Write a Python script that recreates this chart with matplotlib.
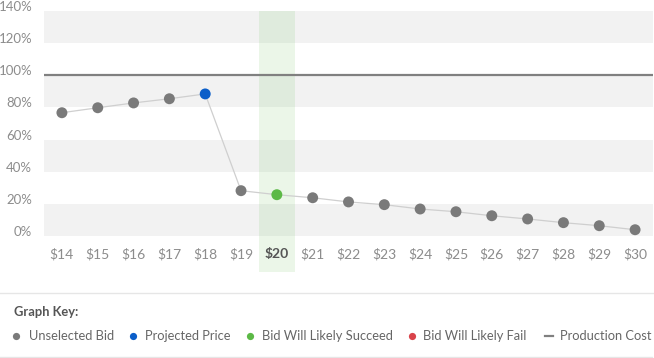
import matplotlib
matplotlib.use("Agg")
import matplotlib.pyplot as plt
from matplotlib.lines import Line2D
from matplotlib.transforms import ScaledTranslation
import numpy as np

# ---- data ----
bids = [14, 15, 16, 17, 18, 19, 20, 21, 22, 23, 24, 25, 26, 27, 28, 29, 30]
bid_labels = [f"${b}" for b in bids]
values = [76.7, 79.8, 82.8, 85.4, 88.4, 28.2, 25.7, 23.8, 21.2, 19.5, 16.8,
          15.1, 12.6, 10.6, 8.3, 6.4, 3.9]
projected_bid = 18
selected_bid = 20
production_cost = 100
y_ticks = [0, 20, 40, 60, 80, 100, 120, 140]
y_tick_labels = [f"{v}%" for v in y_ticks]
legend_labels = ["Unselected Bid", "Projected Price", "Bid Will Likely Succeed",
                 "Bid Will Likely Fail", "Production Cost"]

# ---- style ----
C_GRAY = "#7a7a7a"
C_BLUE = "#0b5ec9"
C_GREEN = "#5cb946"
C_RED = "#d9434a"
C_LINE = "#cfcfcf"
C_BAND = "#f2f2f2"
FONT = "Lato"

plt.rcParams["font.family"] = [FONT, "DejaVu Sans"]

W, H = 654, 358
fig = plt.figure(figsize=(W / 100, H / 100), dpi=100)
ax = fig.add_axes([44 / W, 1 - 272 / H, (653 - 44) / W, (272 - 11) / H])

x = np.arange(len(bids))
ax.set_xlim(-0.5, len(bids) - 0.5)
ax.set_ylim(-22.4, 140)

# alternating bands
for lo in range(0, 140, 40):
    ax.axhspan(lo, lo + 20, color=C_BAND, lw=0, zorder=0)

sel_idx = bids.index(selected_bid)
ax.axvspan(sel_idx - 0.5, sel_idx + 0.5, color=C_GREEN, alpha=0.12, lw=0, zorder=1)

ax.axhline(production_cost, color="#808080", lw=1.6, zorder=2)

ax.plot(x, values, color=C_LINE, lw=0.9, zorder=3)
colors = []
for b in bids:
    if b == projected_bid:
        colors.append(C_BLUE)
    elif b == selected_bid:
        colors.append(C_GREEN)
    else:
        colors.append(C_GRAY)
ax.scatter(x, values, s=62, c=colors, lw=0, zorder=4)

for s in ax.spines.values():
    s.set_visible(False)

ax.set_yticks(y_ticks)
ax.set_yticklabels(y_tick_labels)
ax.tick_params(axis="y", length=0, pad=8.5, labelsize=9.5, labelcolor="#8c8c8c")
for lab in ax.get_yticklabels():
    lab.set_transform(lab.get_transform() + ScaledTranslation(0, 5 / 100, fig.dpi_scale_trans))

ax.set_xticks(x)
ax.set_xticklabels(bid_labels)
ax.tick_params(axis="x", length=0, pad=-17.5, labelsize=10, labelcolor="#8c8c8c")
for lab in ax.get_xticklabels():
    lab.set_zorder(5)
    if lab.get_text() == f"${selected_bid}":
        lab.set_fontweight("bold")
        lab.set_color("#555555")

# ---- key ----
fig.add_artist(Line2D([0, 1], [1 - 293 / H] * 2, color="#e6e6e6", lw=1, transform=fig.transFigure))
fig.add_artist(Line2D([0, 652 / W], [1 - 357 / H] * 2, color="#e6e6e6", lw=1, transform=fig.transFigure))
fig.text(14 / W, 1 - 312 / H, "Graph Key:", fontsize=9.3, fontweight="bold",
         color="#555555", va="center", ha="left")

key_colors = [C_GRAY, C_BLUE, C_GREEN, C_RED, "#808080"]
key_marker_x = [16, 133, 250, 412, 549]
key_text_x = [29, 145, 262, 423, 560]
key_y = 1 - 336 / H
for lbl, col, mx, tx in zip(legend_labels, key_colors, key_marker_x, key_text_x):
    if lbl == "Production Cost":
        fig.add_artist(Line2D([(mx - 4) / W, (mx + 4) / W], [key_y, key_y], color=col,
                              lw=1.6, transform=fig.transFigure))
    else:
        fig.add_artist(Line2D([mx / W], [key_y], marker="o", ms=5.2, mew=0, color=col,
                              transform=fig.transFigure))
    fig.text(tx / W, key_y, lbl, fontsize=9.3, color="#666666", va="center", ha="left")

fig.savefig("out.png", dpi=100)
